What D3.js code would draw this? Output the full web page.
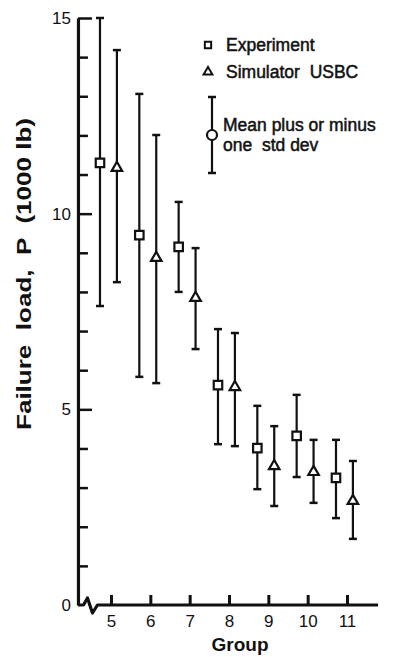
<!DOCTYPE html>
<html>
<head>
<meta charset="utf-8">
<script src="https://cdn.jsdelivr.net/npm/d3@7"></script>
<style>
  body { margin: 0; background: #fff; }
  svg { display: block; font-family: 'Liberation Sans', Arial, sans-serif; }
  svg text { white-space: pre; }
  .axis text { font-size: 17px; fill: #111; }
</style>
</head>
<body>
<div id="chart"></div>
<script>
// groups on the x axis
const groups = [5, 6, 7, 8, 9, 10, 11];

// experiment: mean and mean -/+ one std dev (1000 lb)
const expMean = [11.3, 9.45, 9.15, 5.62, 4.01, 4.32, 3.25];
const expLow  = [7.64, 5.83, 8.0, 4.11, 2.96, 3.27, 2.22];
const expHigh = [15.0, 13.06, 10.3, 7.05, 5.09, 5.37, 4.22];

// simulator USBC
const simMean = [11.17, 8.87, 7.85, 5.57, 3.55, 3.4, 2.66];
const simLow  = [8.25, 5.67, 6.54, 4.06, 2.53, 2.61, 1.69];
const simHigh = [14.18, 12.01, 9.12, 6.95, 4.57, 4.22, 3.68];

const yMajor = [0, 5, 10, 15];
const yMinor = [1, 2, 3, 4, 6, 7, 8, 9, 11, 12, 13, 14];

const width = 396, height = 657;
const ink = '#111';

const svg = d3.select('#chart').append('svg')
  .attr('width', width)
  .attr('height', height);

// scales
const x = d3.scaleLinear().domain([5, 11]).range([111, 347]);
const y = d3.scaleLinear().domain([0, 15]).range([605, 18]);

const xStart = 4.16, xEnd = 11.79;   // where the drawn axes meet / end
const expOffset = -0.28, simOffset = 0.15;

// y axis, minor ticks
svg.append('g')
  .attr('class', 'axis')
  .attr('transform', `translate(${x(xStart)},0)`)
  .call(d3.axisLeft(y).tickValues(yMinor).tickSize(-10).tickFormat(''))
  .call(g => g.select('.domain').remove())
  .call(g => g.selectAll('line').attr('stroke', ink).attr('stroke-width', 2.5));

// y axis, major ticks + labels
svg.append('g')
  .attr('class', 'axis')
  .attr('transform', `translate(${x(xStart)},0)`)
  .call(d3.axisLeft(y).tickValues(yMajor).tickSize(-14).tickSizeOuter(0).tickPadding(7))
  .call(g => g.select('.domain').attr('stroke', ink).attr('stroke-width', 3.2))
  .call(g => g.selectAll('line').attr('stroke', ink).attr('stroke-width', 2.5))
  .call(g => g.selectAll('.tick').filter(d => d === 0).select('line').remove());

// x axis ticks + labels (domain drawn by hand because of the break)
svg.append('g')
  .attr('class', 'axis')
  .attr('transform', `translate(0,${y(0)})`)
  .call(d3.axisBottom(x).tickValues(groups).tickSize(-10).tickPadding(10).tickFormat(d3.format('d')))
  .call(g => g.select('.domain').remove())
  .call(g => g.selectAll('line').attr('stroke', ink).attr('stroke-width', 3));

// x baseline with break symbol
const y0 = y(0);
const bx = x(4.3);
const brk = [
  [x(xStart), y0], [bx, y0], [bx + 4, y0 - 7], [bx + 9, y0 + 8],
  [bx + 14, y0], [x(xEnd), y0]
];
svg.append('path')
  .attr('d', d3.line()(brk))
  .attr('fill', 'none')
  .attr('stroke', ink)
  .attr('stroke-width', 3.2)
  .attr('stroke-linejoin', 'round');

// error bars
function drawSeries(mean, low, high, offset, symbol, size) {
  const data = groups.map((g, i) => ({ g, m: mean[i], lo: low[i], hi: high[i] }));
  const s = svg.append('g');

  s.selectAll('.bar').data(data).enter().append('line')
    .attr('x1', d => x(d.g + offset)).attr('x2', d => x(d.g + offset))
    .attr('y1', d => y(d.lo)).attr('y2', d => y(d.hi))
    .attr('stroke', ink).attr('stroke-width', 2.2);

  ['lo', 'hi'].forEach(k => {
    s.selectAll('.cap-' + k).data(data).enter().append('line')
      .attr('x1', d => x(d.g + offset) - 4).attr('x2', d => x(d.g + offset) + 4)
      .attr('y1', d => y(d[k])).attr('y2', d => y(d[k]))
      .attr('stroke', ink).attr('stroke-width', 2.5);
  });

  s.selectAll('.pt').data(data).enter().append('path')
    .attr('transform', d => `translate(${x(d.g + offset)},${y(d.m)})`)
    .attr('d', d3.symbol().type(symbol).size(size))
    .attr('fill', '#fff').attr('stroke', ink).attr('stroke-width', 2.2);
}

drawSeries(expMean, expLow, expHigh, expOffset, d3.symbolSquare, 72);
drawSeries(simMean, simLow, simHigh, simOffset, d3.symbolTriangle, 48);

// axis titles
svg.append('text')
  .attr('transform', `translate(31,274) rotate(-90)`)
  .attr('text-anchor', 'middle')
  .attr('font-size', 21)
  .attr('font-weight', 'bold')
  .attr('fill', ink)
  .attr('textLength', 312)
  .attr('lengthAdjust', 'spacingAndGlyphs')
  .text('Failure  load,  P  (1000 lb)');

svg.append('text')
  .attr('x', 240).attr('y', 651)
  .attr('text-anchor', 'middle')
  .attr('font-size', 19)
  .attr('font-weight', 'bold')
  .attr('fill', ink)
  .text('Group');

// legend
const leg = svg.append('g');
leg.append('path')
  .attr('transform', 'translate(208,45)')
  .attr('d', d3.symbol().type(d3.symbolSquare).size(40))
  .attr('fill', '#fff').attr('stroke', ink).attr('stroke-width', 2);
leg.append('path')
  .attr('transform', 'translate(208,72)')
  .attr('d', d3.symbol().type(d3.symbolTriangle).size(34))
  .attr('fill', '#fff').attr('stroke', ink).attr('stroke-width', 2);

const legText = [
  { t: 'Experiment', x: 226, y: 51 },
  { t: 'Simulator  USBC', x: 226, y: 78 },
  { t: 'Mean plus or minus', x: 223, y: 131 },
  { t: 'one  std dev', x: 223, y: 151 }
];
leg.selectAll('.lt').data(legText).enter().append('text')
  .attr('x', d => d.x).attr('y', d => d.y)
  .attr('font-size', 17.5)
  .attr('fill', ink)
  .attr('stroke', ink).attr('stroke-width', 0.5)
  .text(d => d.t);

leg.append('line')
  .attr('x1', 212).attr('x2', 212).attr('y1', 97).attr('y2', 173)
  .attr('stroke', ink).attr('stroke-width', 2.2);
[97, 173].forEach(cy => {
  leg.append('line')
    .attr('x1', 208).attr('x2', 216).attr('y1', cy).attr('y2', cy)
    .attr('stroke', ink).attr('stroke-width', 2.5);
});
leg.append('circle')
  .attr('cx', 212).attr('cy', 135).attr('r', 5)
  .attr('fill', '#fff').attr('stroke', ink).attr('stroke-width', 2.2);
</script>
</body>
</html>
